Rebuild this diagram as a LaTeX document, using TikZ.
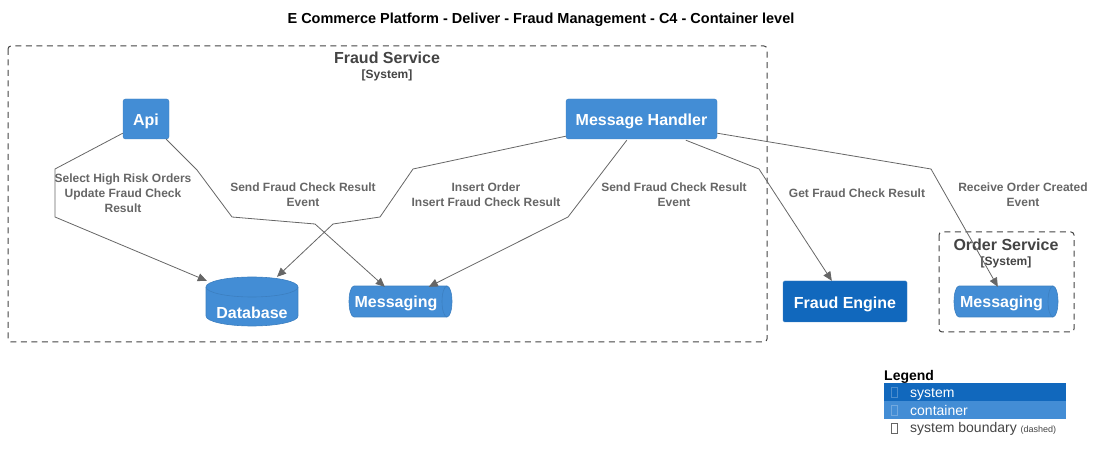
\documentclass[tikz,border=0pt]{standalone}
\usepackage{fontspec}
\setmainfont{Liberation Sans}
\usetikzlibrary{arrows.meta,calc}
\definecolor{ctr}{HTML}{438DD5}
\definecolor{ctrB}{HTML}{3C7FC0}
\definecolor{sys}{HTML}{1168BD}
\definecolor{sysB}{HTML}{3C7FC0}
\definecolor{relc}{HTML}{666666}
\definecolor{bndc}{HTML}{444444}
\tikzset{
  ctrbox/.style={rectangle, rounded corners=2.5pt, fill=ctr, draw=ctrB, text=white, inner sep=0pt,
    text height=13.5pt, text depth=0pt, font=\fontsize{16}{19}\selectfont\bfseries},
  sysbox/.style={rectangle, rounded corners=1.5pt, fill=sys, draw=sysB, text=white, inner sep=0pt,
    text height=13.5pt, text depth=0pt, font=\fontsize{16}{19}\selectfont\bfseries},
  ghost/.style={rectangle, inner sep=0pt, draw=none},
  lbl/.style={font=\fontsize{12}{15}\selectfont\bfseries, text=relc, align=center, inner sep=0pt},
  rel/.style={draw=relc, line width=0.8pt, -{Triangle[length=9pt,width=8pt]}},
  bnd/.style={draw=bndc, line width=1pt, dash pattern=on 6pt off 4.5pt, rounded corners=3pt},
  bndtitle/.style={font=\fontsize{16}{19}\selectfont\bfseries, text=bndc, inner sep=0pt},
  bndsub/.style={font=\fontsize{12}{14}\selectfont\bfseries, text=bndc, inner sep=0pt},
  cyltext/.style={font=\fontsize{16}{19}\selectfont\bfseries, text=white, inner sep=0pt},
}
\begin{document}
\begin{tikzpicture}[x=1pt,y=-1pt]
\useasboundingbox (0,0) rectangle (1096,462);
% title
\node[font=\fontsize{14.5}{17}\selectfont\bfseries, inner sep=0pt] (title) at (541,20) {E Commerce Platform - Deliver - Fraud Management - C4 - Container level};

% boundaries
\draw[bnd] (8,46) rectangle (767,342);
\node[bndtitle] (fst) at (387,58) {Fraud Service};
\node[bndsub] (fss) at (387,75) {[System]};
\draw[bnd] (939,232) rectangle (1074,332);
\node[bndtitle] (ost) at (1006,245) {Order Service};
\node[bndsub] (oss) at (1006,262) {[System]};

% containers
\node[ctrbox, minimum width=46pt, minimum height=40pt] (api) at (146,119) {Api};
\node[ctrbox, minimum width=151pt, minimum height=40pt] (mh) at (641.5,119) {Message Handler};
\node[sysbox, minimum width=124pt, minimum height=41pt] (fe) at (845,301.5) {Fraud Engine};

% database cylinder
\path[fill=ctr] (206,287) rectangle (298,316);
\fill[ctr] (252,316) ellipse (46 and 10);
\fill[ctr] (252,287) ellipse (46 and 10);
\draw[ctrB, line width=0.6pt] (206,287) -- (206,316) arc (180:0:46 and 10) -- (298,287);
\draw[ctrB, line width=0.6pt] (252,287) ellipse (46 and 10);
\node[ghost, minimum width=92pt, minimum height=49pt] (db) at (252,301.5) {};
\node[cyltext] (dbt) at (252,313) {Database};

% queue 1
\fill[ctr] (354,286) rectangle (447,317);
\fill[ctr] (354,301.5) ellipse (5 and 15.5);
\fill[ctr] (447,301.5) ellipse (5 and 15.5);
\draw[ctrB, line width=0.6pt] (447,286) -- (354,286) arc (270:90:5 and 15.5) -- (447,317);
\draw[ctrB, line width=0.6pt] (447,301.5) ellipse (5 and 15.5);
\node[ghost, minimum width=103pt, minimum height=31pt] (msg) at (400.5,301.5) {};
\node[cyltext] (msgt) at (396,303.5) {Messaging};

% queue 2
\fill[ctr] (959,286) rectangle (1053,317);
\fill[ctr] (959,301.5) ellipse (5 and 15.5);
\fill[ctr] (1053,301.5) ellipse (5 and 15.5);
\draw[ctrB, line width=0.6pt] (1053,286) -- (959,286) arc (270:90:5 and 15.5) -- (1053,317);
\draw[ctrB, line width=0.6pt] (1053,301.5) ellipse (5 and 15.5);
\node[ghost, minimum width=104pt, minimum height=31pt] (omsg) at (1006,301.5) {};
\node[cyltext] (omsgt) at (1001.5,303.5) {Messaging};

% bend points
\coordinate (b1a) at (55,169);
\coordinate (b1b) at (55,217);
\coordinate (b2a) at (197,170);
\coordinate (b2b) at (232,217);
\coordinate (b2c) at (315,224);
\coordinate (b3a) at (413,169);
\coordinate (b3b) at (380,217);
\coordinate (b3c) at (333,224);
\coordinate (b4a) at (568,217);
\coordinate (b5a) at (759,169);
\coordinate (b6a) at (931,169);

% relations
\draw[rel] ($(api.south west)+(0,-6)$) -- (b1a) -- (b1b) -- ($(db.north west)+(1,4)$);
\draw[rel] ($(api.south east)+(-3,0)$) -- (b2a) -- (b2b) -- (b2c) -- ($(msg.north west)+(36,1)$);
\draw[rel] ($(mh.south west)+(0,-3)$) -- (b3a) -- (b3b) -- (b3c) -- ($(db.north)+(25,0)$);
\draw[rel] ($(mh.south west)+(61,1)$) -- (b4a) -- ($(msg.north west)+(80,1)$);
\draw[rel] ($(mh.south west)+(120,1)$) -- (b5a) -- ($(fe.north west)+(49,0)$);
\draw[rel] ($(mh.south east)+(0,-6)$) -- (b6a) -- ($(omsg.north west)+(44,1)$);

% labels
\node[lbl] (l1) at (123,193) {Select High Risk Orders\\Update Fraud Check\\Result};
\node[lbl] (l2) at (303,194.5) {Send Fraud Check Result\\Event};
\node[lbl] (l3) at (486,194.5) {Insert Order\\Insert Fraud Check Result};
\node[lbl] (l4) at (674,194.5) {Send Fraud Check Result\\Event};
\node[lbl] (l5) at (857,193) {Get Fraud Check Result};
\node[lbl] (l6) at (1023,194.5) {Receive Order Created\\Event};

% legend
\node[font=\fontsize{14}{16}\selectfont\bfseries, anchor=base west, inner sep=0pt] (leg) at (884,381) {Legend};
\fill[sys] (884,383) rectangle (1066,401);
\fill[ctr] (884,401) rectangle (1066,419);
\draw[white, opacity=0.25, line width=0.6pt] (891.5,387.5) rectangle (897.5,397.5);
\draw[white, opacity=0.25, line width=0.6pt] (891.5,405.5) rectangle (897.5,415.5);
\draw[relc, line width=0.6pt] (891.5,423.5) rectangle (897.5,433.5);
\node[font=\fontsize{14}{16}\selectfont, text=white, anchor=base west, inner sep=0pt] (lsys) at (910,398) {system};
\node[font=\fontsize{14}{16}\selectfont, text=white, anchor=base west, inner sep=0pt] (lctr) at (910,416) {container};
\node[font=\fontsize{14}{16}\selectfont, text=bndc, anchor=base west, inner sep=0pt] (lbnd) at (910,433) {system boundary \fontsize{9}{10}\selectfont (dashed)};
\end{tikzpicture}
\end{document}
